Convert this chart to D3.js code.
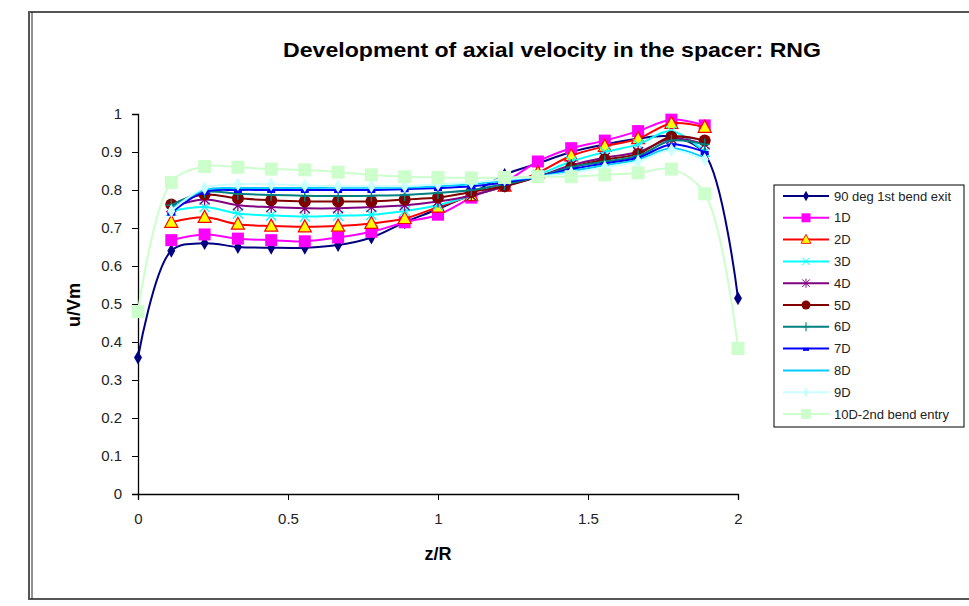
<!DOCTYPE html>
<html>
<head>
<meta charset="utf-8">
<script src="https://cdn.jsdelivr.net/npm/d3@7"></script>
<style>
  body { margin: 0; background: #fff; }
  svg { display: block; font-family: "Liberation Sans", Arial, sans-serif; }
</style>
</head>
<body>
<div id="chart"></div>
<script>
// z/R positions
const zFull = [0, 0.111, 0.222, 0.333, 0.444, 0.556, 0.667, 0.778, 0.889, 1.0, 1.111, 1.222, 1.333, 1.444, 1.556, 1.667, 1.778, 1.889, 2.0];
const zInner = [0.111, 0.222, 0.333, 0.444, 0.556, 0.667, 0.778, 0.889, 1.0, 1.111, 1.222, 1.333, 1.444, 1.556, 1.667, 1.778, 1.889];

// u/Vm values per station
const exit90 = [0.359, 0.64, 0.66, 0.65, 0.648, 0.648, 0.655, 0.675, 0.715, 0.75, 0.79, 0.84, 0.87, 0.9, 0.92, 0.935, 0.94, 0.895, 0.515];
const d1 = [0.668, 0.683, 0.672, 0.668, 0.665, 0.675, 0.69, 0.715, 0.735, 0.78, 0.82, 0.875, 0.91, 0.93, 0.955, 0.985, 0.97];
const d2 = [0.715, 0.728, 0.71, 0.705, 0.703, 0.705, 0.712, 0.725, 0.755, 0.785, 0.81, 0.845, 0.89, 0.915, 0.935, 0.975, 0.965];
const d3v = [0.745, 0.755, 0.738, 0.733, 0.73, 0.732, 0.735, 0.745, 0.76, 0.785, 0.81, 0.84, 0.875, 0.9, 0.92, 0.955, 0.9];
const d4 = [0.755, 0.775, 0.76, 0.755, 0.752, 0.752, 0.755, 0.76, 0.77, 0.785, 0.81, 0.835, 0.865, 0.885, 0.9, 0.935, 0.92];
const d5 = [0.762, 0.788, 0.778, 0.773, 0.77, 0.77, 0.77, 0.775, 0.78, 0.795, 0.81, 0.835, 0.86, 0.88, 0.895, 0.94, 0.93];
const d6 = [0.76, 0.795, 0.79, 0.787, 0.785, 0.784, 0.785, 0.787, 0.792, 0.8, 0.815, 0.835, 0.86, 0.875, 0.89, 0.93, 0.92];
const d7 = [0.74, 0.795, 0.8, 0.8, 0.8, 0.8, 0.8, 0.802, 0.805, 0.81, 0.82, 0.835, 0.855, 0.87, 0.885, 0.92, 0.9];
const d8 = [0.75, 0.8, 0.805, 0.805, 0.805, 0.806, 0.806, 0.806, 0.81, 0.815, 0.825, 0.835, 0.85, 0.865, 0.88, 0.91, 0.885];
const d9 = [0.745, 0.805, 0.815, 0.815, 0.812, 0.81, 0.81, 0.81, 0.815, 0.82, 0.828, 0.835, 0.845, 0.86, 0.875, 0.905, 0.88];
const d10 = [0.48, 0.82, 0.862, 0.86, 0.855, 0.853, 0.847, 0.84, 0.835, 0.833, 0.832, 0.833, 0.835, 0.835, 0.84, 0.845, 0.855, 0.79, 0.383];

const seriesNames = ["90 deg 1st bend exit", "1D", "2D", "3D", "4D", "5D", "6D", "7D", "8D", "9D", "10D-2nd bend entry"];
const xTicks = [0, 0.5, 1, 1.5, 2];
const yTicks = [0, 0.1, 0.2, 0.3, 0.4, 0.5, 0.6, 0.7, 0.8, 0.9, 1];

const series = [
  { name: seriesNames[0], z: zFull, v: exit90, color: "#000080", marker: "diamond" },
  { name: seriesNames[1], z: zInner, v: d1, color: "#FF00FF", marker: "square" },
  { name: seriesNames[2], z: zInner, v: d2, color: "#FF0000", marker: "triangle" },
  { name: seriesNames[3], z: zInner, v: d3v, color: "#00FFFF", marker: "x" },
  { name: seriesNames[4], z: zInner, v: d4, color: "#800080", marker: "star" },
  { name: seriesNames[5], z: zInner, v: d5, color: "#800000", marker: "circle" },
  { name: seriesNames[6], z: zInner, v: d6, color: "#008080", marker: "plus" },
  { name: seriesNames[7], z: zInner, v: d7, color: "#0000FF", marker: "dash" },
  { name: seriesNames[8], z: zInner, v: d8, color: "#00CCFF", marker: "none" },
  { name: seriesNames[9], z: zInner, v: d9, color: "#CCFFFF", marker: "diamond" },
  { name: seriesNames[10], z: zFull, v: d10, color: "#CCFFCC", marker: "bigsquare" }
];

const width = 969, height = 606;
const plot = { left: 138, right: 738, top: 114, bottom: 494 };

const svg = d3.select("#chart").append("svg")
  .attr("width", width)
  .attr("height", height);

// chart frame
svg.append("rect")
  .attr("x", 29).attr("y", 12)
  .attr("width", 960).attr("height", 587)
  .attr("fill", "#fff")
  .attr("stroke", "#555")
  .attr("stroke-width", 2);
svg.append("line")
  .attr("x1", 32).attr("x2", 32).attr("y1", 12).attr("y2", 599)
  .attr("stroke", "#222").attr("stroke-width", 1);

svg.append("text")
  .attr("x", 283).attr("y", 57)
  .attr("textLength", 538)
  .attr("lengthAdjust", "spacingAndGlyphs")
  .style("font-size", "20px")
  .style("font-weight", "bold")
  .text("Development of axial velocity in the spacer: RNG");

const x = d3.scaleLinear().domain([0, 2]).range([plot.left, plot.right]);
const y = d3.scaleLinear().domain([0, 1]).range([plot.bottom, plot.top]);

const yAxis = svg.append("g")
  .attr("transform", `translate(${plot.left},0)`)
  .call(d3.axisLeft(y).tickValues(yTicks).tickSize(6).tickPadding(10).tickFormat(d3.format("")));
const xAxis = svg.append("g")
  .attr("transform", `translate(0,${plot.bottom})`)
  .call(d3.axisBottom(x).tickValues(xTicks).tickSize(6).tickPadding(13).tickFormat(d3.format("")));

[xAxis, yAxis].forEach(g => {
  g.select(".domain").attr("stroke", "#000").attr("stroke-width", 1.3);
  g.selectAll(".tick line").attr("stroke", "#000");
  g.selectAll(".tick text")
    .attr("fill", "#222")
    .style("font-size", "15px")
    .style("font-family", "\"Liberation Sans\", Arial, sans-serif");
});

svg.append("text")
  .attr("x", 438).attr("y", 560)
  .attr("text-anchor", "middle")
  .style("font-size", "18px")
  .style("font-weight", "bold")
  .text("z/R");

svg.append("text")
  .attr("transform", `translate(80,305) rotate(-90)`)
  .attr("text-anchor", "middle")
  .style("font-size", "18px")
  .style("font-weight", "bold")
  .text("u/Vm");

function drawMarker(g, type, color, cx, cy, k = 1) {
  const m = g.append("g").attr("transform", `translate(${cx},${cy}) scale(${k})`);
  switch (type) {
    case "diamond":
      m.append("path").attr("d", d3.symbol(d3.symbolDiamond, 55)()).attr("fill", color);
      break;
    case "square":
      m.append("rect").attr("x", -6).attr("y", -6).attr("width", 12).attr("height", 12).attr("fill", color);
      break;
    case "bigsquare":
      m.append("rect").attr("x", -6.5).attr("y", -6.5).attr("width", 13).attr("height", 13).attr("fill", color);
      break;
    case "triangle":
      m.append("path").attr("d", "M0,-7L6.5,5L-6.5,5Z")
        .attr("fill", "#FFFF00").attr("stroke", color).attr("stroke-width", 1.2);
      break;
    case "circle":
      m.append("circle").attr("r", 6).attr("fill", color);
      break;
    case "x":
      m.append("path").attr("d", "M-5,-5L5,5M-5,5L5,-5").attr("stroke", color).attr("stroke-width", 1.3);
      break;
    case "star":
      m.append("path").attr("d", "M-5,-5L5,5M-5,5L5,-5M0,-6L0,6").attr("stroke", color).attr("stroke-width", 1.3);
      break;
    case "plus":
      m.append("path").attr("d", "M-5,0L5,0M0,-6L0,6").attr("stroke", color).attr("stroke-width", 1.5);
      break;
    case "dash":
      m.append("rect").attr("x", -4).attr("y", -1).attr("width", 8).attr("height", 4).attr("fill", color);
      break;
  }
}

const line = d3.line()
  .x(d => x(d[0]))
  .y(d => y(d[1]))
  .curve(d3.curveCatmullRom.alpha(0.5));

const plotG = svg.append("g");
series.forEach(s => {
  const pts = s.z.map((z, i) => [z, s.v[i]]);
  const g = plotG.append("g");
  g.append("path")
    .datum(pts)
    .attr("d", line)
    .attr("fill", "none")
    .attr("stroke", s.color)
    .attr("stroke-width", 2);
  pts.forEach(p => drawMarker(g, s.marker, s.color, x(p[0]), y(p[1])));
});

// legend
const legend = svg.append("g");
legend.append("rect")
  .attr("x", 774).attr("y", 185)
  .attr("width", 190).attr("height", 242)
  .attr("fill", "#fff")
  .attr("stroke", "#000")
  .attr("stroke-width", 1);

series.forEach((s, i) => {
  const ly = 196 + i * 21.8;
  legend.append("line")
    .attr("x1", 783).attr("x2", 829)
    .attr("y1", ly).attr("y2", ly)
    .attr("stroke", s.color).attr("stroke-width", 2);
  drawMarker(legend, s.marker, s.color, 806, ly, 0.75);
  legend.append("text")
    .attr("x", 834).attr("y", ly)
    .attr("dy", "0.35em")
    .style("font-size", "13px")
    .attr("fill", "#222")
    .text(s.name);
});
</script>
</body>
</html>
